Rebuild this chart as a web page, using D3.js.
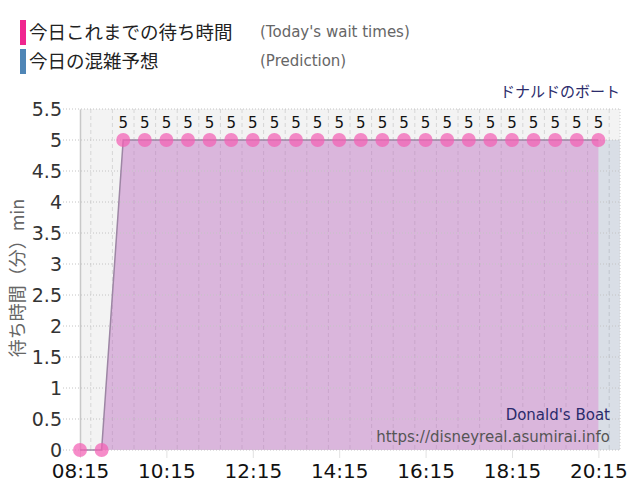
<!DOCTYPE html>
<html>
<head>
<meta charset="utf-8">
<script src="https://cdn.jsdelivr.net/npm/d3@7"></script>
<style>
  body { margin: 0; background: #fff; }
  svg { display: block; }
</style>
</head>
<body>
<script>
// wait times recorded today (every 30 min)
const waitTimes = ["08:15","08:45","09:15","09:45","10:15","10:45","11:15","11:45","12:15","12:45",
  "13:15","13:45","14:15","14:45","15:15","15:45","16:15","16:45","17:15","17:45","18:15","18:45",
  "19:15","19:45","20:15"];
const waitValues = [0,0,5,5,5,5,5,5,5,5,5,5,5,5,5,5,5,5,5,5,5,5,5,5,5];

// prediction
const predTimes = waitTimes.concat(["20:45"]);
const predValues = [0,0,5,5,5,5,5,5,5,5,5,5,5,5,5,5,5,5,5,5,5,5,5,5,5,5];

const xTickLabels = ["08:15","10:15","12:15","14:15","16:15","18:15","20:15"];
const yTicks = [0,0.5,1,1.5,2,2.5,3,3.5,4,4.5,5,5.5];

const parse = d3.timeParse("%H:%M");
const fmt = d3.timeFormat("%H:%M");

const width = 640, height = 500;
const margin = { top: 109, right: 20, bottom: 50, left: 80 };

const svg = d3.select("body").append("svg")
  .attr("width", width)
  .attr("height", height);

// legend
const legend = [
  { jp: "今日これまでの待ち時間", en: "(Today's wait times)", color: "#f0268f", y: 20 },
  { jp: "今日の混雑予想", en: "(Prediction)", color: "#4f86b6", y: 49 }
];
legend.forEach(function(l) {
  svg.append("rect").attr("x", 20).attr("y", l.y).attr("width", 6).attr("height", 25).attr("fill", l.color);
  svg.append("text").attr("x", 29).attr("y", l.y + 19)
    .style("font-family", "'Noto Sans CJK JP'").style("font-size", "18.5px").style("fill", "#222")
    .text(l.jp);
  svg.append("text").attr("x", 260).attr("y", l.y + 17)
    .style("font-family", "'DejaVu Sans'").style("font-size", "15px").style("fill", "#666")
    .text(l.en);
});

svg.append("text")
  .attr("x", 620).attr("y", 97)
  .style("text-anchor", "end")
  .style("font-family", "'Noto Sans CJK JP'").style("font-size", "15px").style("fill", "#2b2b6b")
  .text("ドナルドのボート");

// scales
const xScale = d3.scaleTime()
  .domain([parse("08:15"), parse("20:45")])
  .range([margin.left, width - margin.right]);

const yScale = d3.scaleLinear()
  .domain([0, 5.5])
  .range([height - margin.bottom, margin.top]);

const x0 = xScale.range()[0], x1 = xScale.range()[1];
const y0 = yScale.range()[0], y1 = yScale.range()[1];

// plot background
svg.append("rect")
  .attr("x", x0).attr("y", y1)
  .attr("width", x1 - x0).attr("height", y0 - y1)
  .attr("fill", "#f3f3f3");

// vertical grid every 30 min
const halfHours = d3.timeMinute.every(30).range(parse("08:15"), parse("20:46"));
svg.append("g").selectAll("line")
  .data(halfHours)
  .enter().append("line")
  .attr("x1", d => xScale(d)).attr("x2", d => xScale(d))
  .attr("y1", y1).attr("y2", y0)
  .attr("stroke", "#d6d6d6")
  .attr("stroke-dasharray", "4,3");

// areas
const predData = predTimes.map((t, i) => ({ t: parse(t), v: predValues[i] }));
const waitData = waitTimes.map((t, i) => ({ t: parse(t), v: waitValues[i] }));

const area = d3.area()
  .x(d => xScale(d.t))
  .y0(yScale(0))
  .y1(d => yScale(d.v));

svg.append("path")
  .datum(predData)
  .attr("d", area)
  .attr("fill", "rgba(100,130,170,0.18)");

svg.append("path")
  .datum(waitData)
  .attr("d", area)
  .attr("fill", "rgba(220,100,200,0.32)");

// horizontal grid
svg.append("g").selectAll("line")
  .data(yTicks)
  .enter().append("line")
  .attr("x1", 63).attr("x2", x1)
  .attr("y1", d => yScale(d)).attr("y2", d => yScale(d))
  .attr("stroke", "#c4c4c4")
  .attr("stroke-dasharray", "1,2");

// right border
svg.append("line")
  .attr("x1", x1).attr("x2", x1).attr("y1", y1).attr("y2", y0)
  .attr("stroke", "#cccccc").attr("stroke-dasharray", "1,2");

// y axis
const yAxis = svg.append("g")
  .attr("transform", "translate(" + x0 + ",0)")
  .call(d3.axisLeft(yScale).tickValues(yTicks).tickSize(0).tickPadding(18).tickFormat(d3.format("")));
yAxis.select(".domain").attr("stroke", "#c8c8c8").attr("stroke-width", 1.5);
yAxis.selectAll("text")
  .style("font-family", "'DejaVu Sans'").style("font-size", "19px").style("fill", "#333");

// x axis
const xAxis = svg.append("g")
  .attr("transform", "translate(0," + y0 + ")")
  .call(d3.axisBottom(xScale)
    .tickValues(xTickLabels.map(parse))
    .tickSize(8).tickPadding(6)
    .tickFormat(fmt));
xAxis.select(".domain").remove();
xAxis.selectAll("line").attr("stroke", "#e2e2e2");
xAxis.selectAll("text")
  .style("font-family", "'DejaVu Sans'").style("font-size", "20px").style("fill", "#111");

// y axis label
svg.append("text")
  .attr("transform", "translate(24,278) rotate(-90)")
  .style("text-anchor", "middle")
  .style("font-family", "'Noto Sans CJK JP'").style("font-size", "18px").style("fill", "#666")
  .text("待ち時間（分）min");

// wait line and points
const line = d3.line()
  .x(d => xScale(d.t))
  .y(d => yScale(d.v));

svg.append("path")
  .datum(waitData)
  .attr("d", line)
  .attr("fill", "none")
  .attr("stroke", "#9d86a4")
  .attr("stroke-width", 1.5);

svg.append("g").selectAll("circle")
  .data(waitData)
  .enter().append("circle")
  .attr("cx", d => xScale(d.t))
  .attr("cy", d => yScale(d.v))
  .attr("r", 7)
  .attr("fill", "rgba(242,95,180,0.72)");

svg.append("g").selectAll("text")
  .data(waitData.filter(d => d.v > 0))
  .enter().append("text")
  .attr("x", d => xScale(d.t))
  .attr("y", d => yScale(d.v) - 12)
  .style("text-anchor", "middle")
  .style("font-family", "'DejaVu Sans'").style("font-size", "15px").style("fill", "#111")
  .text(d => d.v);

// watermark
svg.append("text")
  .attr("x", 610).attr("y", 420)
  .style("text-anchor", "end")
  .style("font-family", "'DejaVu Sans'").style("font-size", "15px").style("fill", "#2b2b6b")
  .text("Donald's Boat");

svg.append("text")
  .attr("x", 610).attr("y", 442)
  .style("text-anchor", "end")
  .style("font-family", "'DejaVu Sans'").style("font-size", "15px").style("fill", "#555")
  .text("https://disneyreal.asumirai.info");
</script>
</body>
</html>
